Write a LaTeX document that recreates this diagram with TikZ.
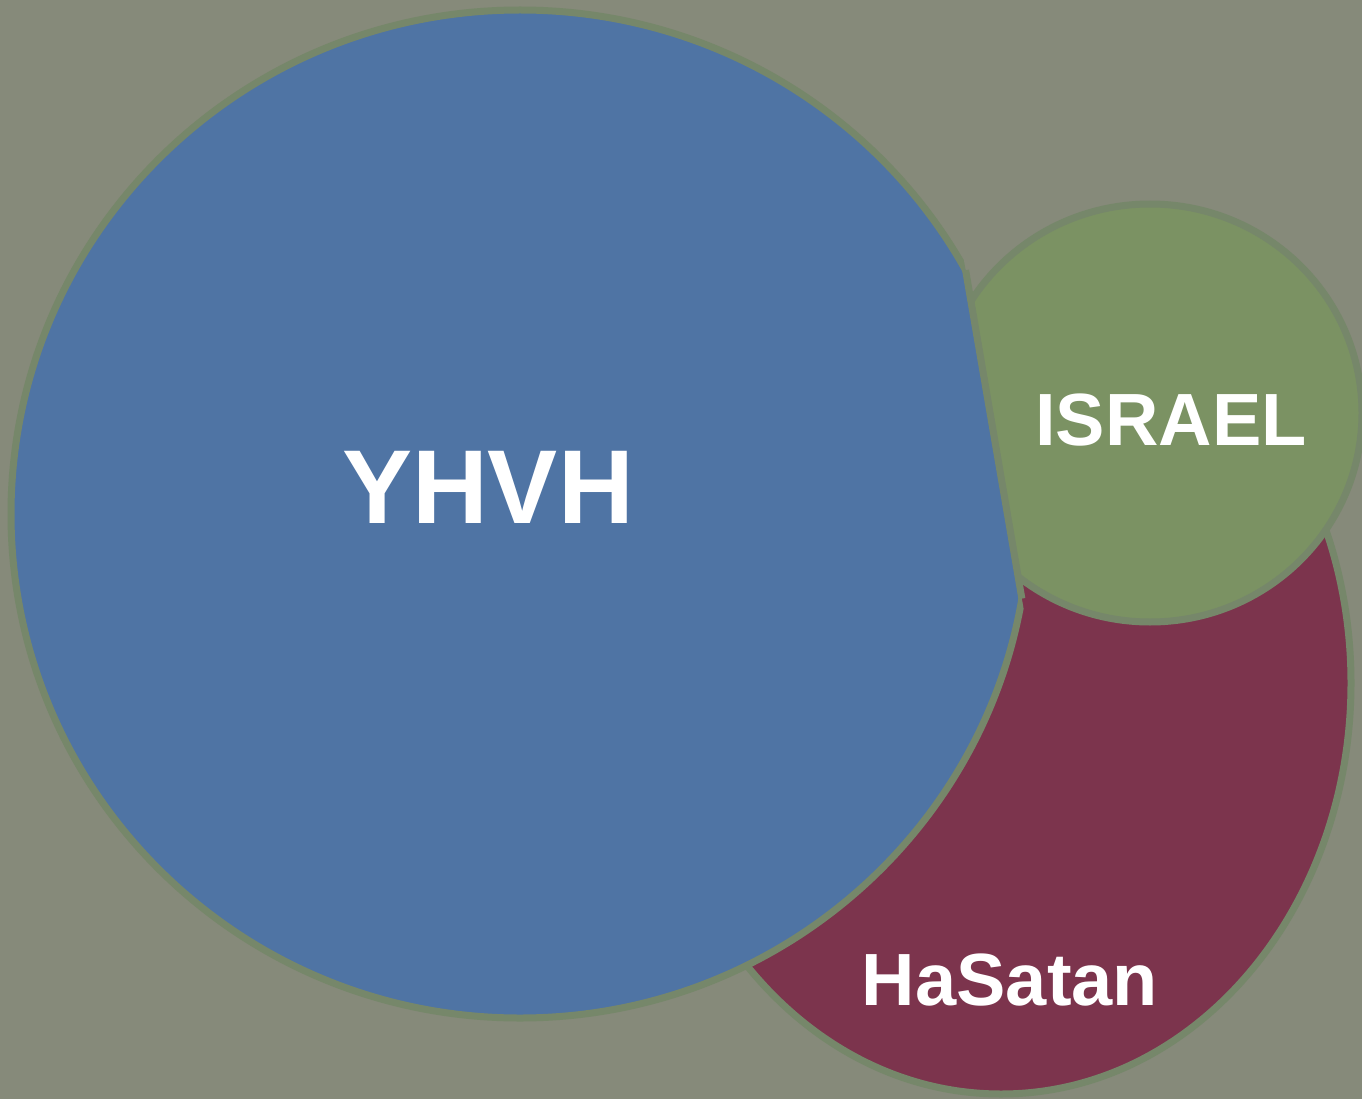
\documentclass[tikz,border=0pt]{standalone}
\usepackage{fontspec}
\setmainfont{Liberation Sans}
\usepackage{tikz}
\usetikzlibrary{intersections}
\definecolor{slate}{HTML}{868A7A}
\definecolor{rim}{HTML}{76876A}
\definecolor{yhvhblue}{HTML}{4F74A4}
\definecolor{israelgreen}{HTML}{7B9263}
\definecolor{satanred}{HTML}{7C344D}
\tikzset{bubble/.style = {draw=rim, line width=7pt},
         bubbletext/.style = {text=white, inner sep=0pt, anchor=base}}

\begin{document}
\begin{tikzpicture}[x=1pt, y=-1pt]
    \fill [slate] (0, 0) rectangle (1362, 1099);
    \useasboundingbox (0, 0) rectangle (1362, 1099);

    % the straight cut between YHVH and ISRAEL
    \coordinate (cuta) at (919.3, 0);
    \coordinate (cutb) at (1107.6, 1099);
    \path [name path=cut] (cuta) -- (cutb);
    \path [name path=bluerim] (520, 514) ellipse [x radius=509pt, y radius=504pt];
    \path [name intersections={of=cut and bluerim, sort by=cut, by={cuttop, cutbot}}];

    % HaSatan lies under the other two
    \begin{scope}
      \clip (600, 420) rectangle (1362, 1099);
      \draw [bubble, fill=satanred] (1001, 683) ellipse [x radius=350pt, y radius=411pt];
    \end{scope}
    \begin{scope}
      \clip (0, 0) -- (cuta) -- (cutb) -- (0, 1099) -- cycle;
      \draw [bubble, fill=yhvhblue] (520, 514) ellipse [x radius=509pt, y radius=504pt];
    \end{scope}
    \begin{scope}
      \clip (cuta) -- (1362, 0) -- (1362, 1099) -- (cutb) -- cycle;
      \draw [bubble, fill=israelgreen] (1150, 413) ellipse [x radius=212pt, y radius=209pt];
    \end{scope}
    \draw [bubble] (cuttop) -- (cutbot);

    \node [bubbletext, font=\fontsize{105}{126}\selectfont\bfseries] (yhvh) at (488, 523) {YHVH};
    \node [bubbletext, font=\fontsize{74}{89}\selectfont\bfseries] (israel) at (1171, 445) {ISRAEL};
    \node [bubbletext, font=\fontsize{74}{89}\selectfont\bfseries] (hasatan) at (1010, 1005) {HaSatan};
\end{tikzpicture}
\end{document}
